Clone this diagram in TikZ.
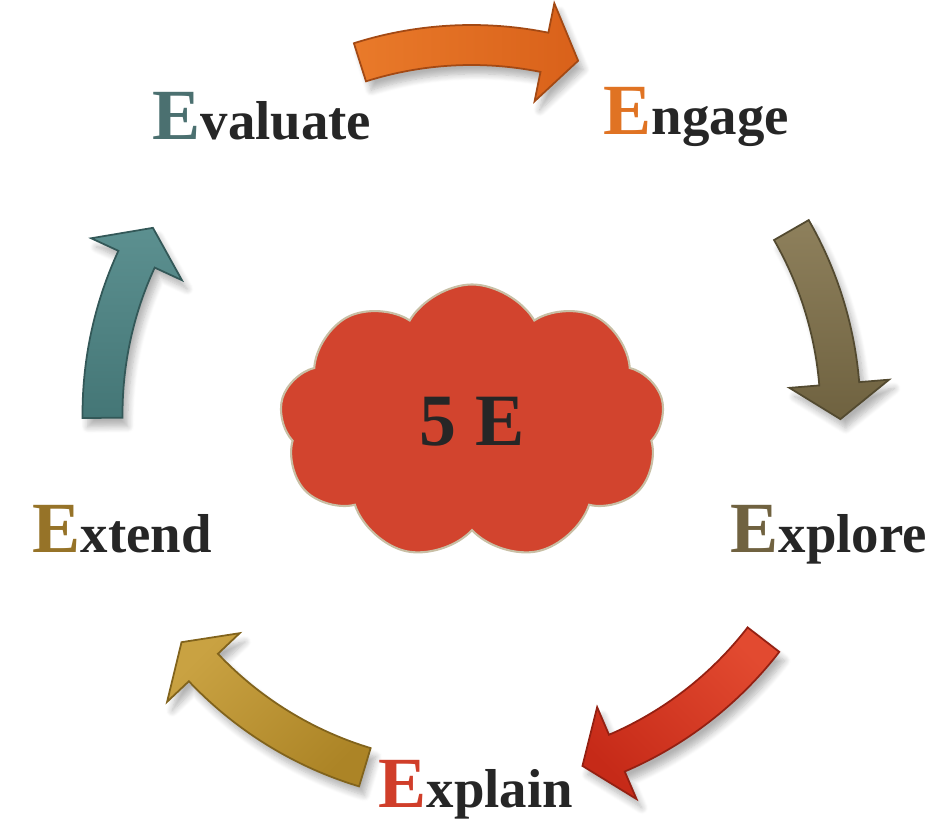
\documentclass[tikz,border=0pt]{standalone}
\usepackage{fontspec}
\setmainfont{Liberation Serif}
\usetikzlibrary{shapes.symbols,shadows.blur}

% letter and cloud colours
\definecolor{stagetext}{HTML}{262626}
\definecolor{evalteal}{HTML}{4B7070}
\definecolor{engorange}{HTML}{E07323}
\definecolor{explbrown}{HTML}{706240}
\definecolor{extgold}{HTML}{967328}
\definecolor{explred}{HTML}{D03E2A}
\definecolor{cloudred}{HTML}{D2442E}
\definecolor{cloudedge}{HTML}{C8BFA5}

% arrow colours, light end / dark end
\definecolor{orangelite}{HTML}{E97A2A}
\definecolor{orangedark}{HTML}{D9611A}
\definecolor{olivelite}{HTML}{8E805C}
\definecolor{olivedark}{HTML}{6F6240}
\definecolor{redlite}{HTML}{E24A30}
\definecolor{reddark}{HTML}{C62A18}
\definecolor{goldlite}{HTML}{C9A242}
\definecolor{golddark}{HTML}{AC8426}
\definecolor{teallite}{HTML}{5C9090}
\definecolor{tealdark}{HTML}{447676}

\newcommand\firstE[1]{{\color{#1}\fontsize{20.5}{21}\selectfont E}}

\begin{document}
\begin{tikzpicture}[
        stage/.style={anchor=base west, inner sep=0pt, text=stagetext,
            font=\bfseries\fontsize{15.6}{16}\selectfont},
        core/.style={cloud, cloud puffs=9, cloud puff arc=120, aspect=1.4,
            inner sep=0pt, minimum width=3.85cm, minimum height=2.75cm,
            fill=cloudred, draw=cloudedge, line width=0.6pt,
            text=stagetext, font=\bfseries\fontsize{21}{21}\selectfont},
        bent/.style={line width=0.5pt, line join=miter,
            blur shadow={shadow xshift=1.5pt, shadow yshift=-2.5pt,
                shadow blur steps=8, shadow opacity=30}}
    ]
    \useasboundingbox (0,0) rectangle (9.43,8.22);

    % curved arrows round the ring, tail angle / tip / head base
    \begin{scope}[shift={(4.715,4.08)}]
    \foreach \from/\to/\base/\lite/\dark/\turn in {
            107.6/73.2/78.6/orangelite/orangedark/90,
            29.9/-0.8/4.7/olivelite/olivedark/0,
            -37.7/-72.5/-66.8/redlite/reddark/-45,
            -106.8/-141.8/-136.6/goldlite/golddark/45,
            180.6/149.7/155.2/teallite/tealdark/0}
        \path[bent, top color=\lite, bottom color=\dark, shading angle=\turn,
              draw=\dark!75!black]
            (\from:3.89) arc[start angle=\from, end angle=\base, radius=3.89]
            -- (\base:4.19) -- (\to:3.69) -- (\base:3.19) -- (\base:3.49)
            arc[start angle=\base, end angle=\from, radius=3.49] -- cycle;
    \end{scope}

    \node[core] (centre) at (4.72,4.00) {5 E};

    \node[stage] (evaluate) at (1.52,6.82) {\firstE{evalteal}valuate};
    \node[stage] (engage) at (6.03,6.87) {\firstE{engorange}ngage};
    \node[stage] (explore) at (7.30,2.69) {\firstE{explbrown}xplore};
    \node[stage] (explain) at (3.78,0.14) {\firstE{explred}xplain};
    \node[stage] (extend) at (0.32,2.69) {\firstE{extgold}xtend};

\end{tikzpicture}
\end{document}
